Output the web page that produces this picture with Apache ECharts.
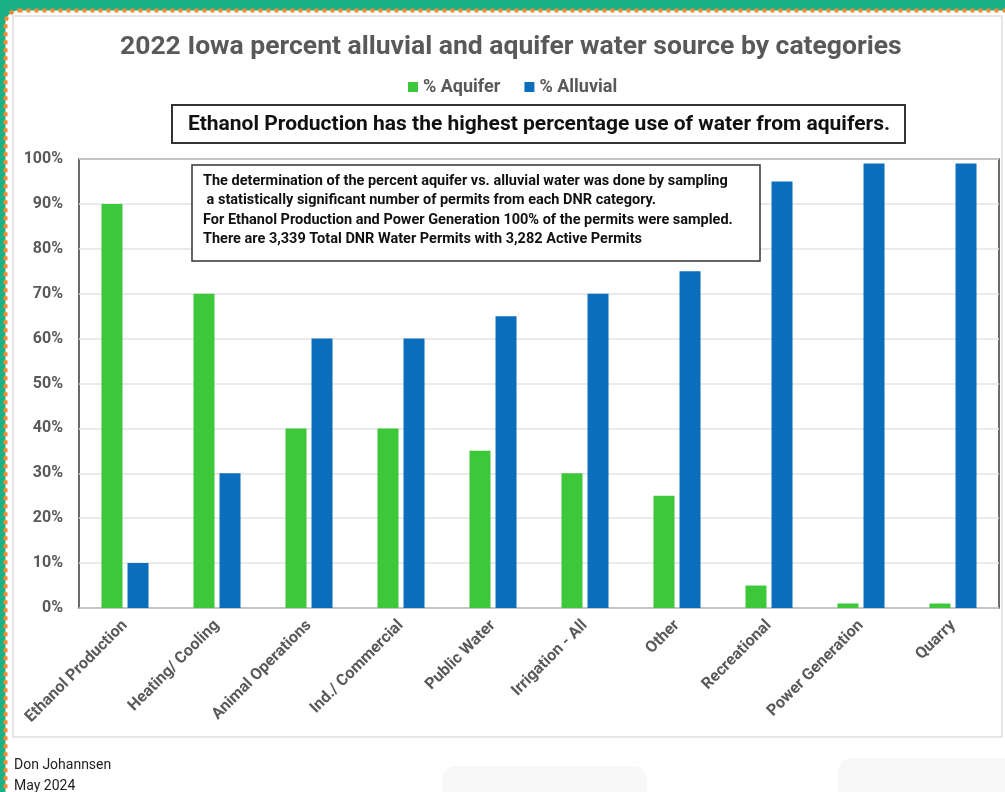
<!DOCTYPE html>
<html>
<head>
<meta charset="utf-8">
<script src="https://cdn.jsdelivr.net/npm/echarts@6/dist/echarts.min.js"></script>
<style>
  html, body { margin: 0; padding: 0; background: #ffffff; }
  #chart { width: 1005px; height: 792px; }
</style>
</head>
<body>
<div id="chart"></div>
<script>
// Water permit categories and the share of water drawn from each source (%)
const categories = [
  'Ethanol Production', 'Heating/ Cooling', 'Animal Operations', 'Ind./ Commercial',
  'Public Water', 'Irrigation - All', 'Other', 'Recreational', 'Power Generation', 'Quarry'
];
const aquiferPct  = [90, 70, 40, 40, 35, 30, 25, 5, 1, 1];
const alluvialPct = [10, 30, 60, 60, 65, 70, 75, 95, 99, 99];
const seriesNames = ['% Aquifer', '% Alluvial'];

const titleText = '2022 Iowa percent alluvial and aquifer water source by categories';
const headline = 'Ethanol Production has the highest percentage use of water from aquifers.';
const noteLines = [
  'The determination of the percent aquifer vs. alluvial water was done by sampling',
  ' a statistically significant number of permits from each DNR category.',
  'For Ethanol Production and Power Generation 100% of the permits were sampled.',
  'There are 3,339 Total DNR Water Permits with 3,282 Active Permits'
];
const footerLines = ['Don Johannsen', 'May 2024'];

const FONT = 'Roboto, "Noto Sans", sans-serif';
const GREY = '#595959';

const chart = echarts.init(document.getElementById('chart'), null, { renderer: 'canvas' });

chart.setOption({
  animation: false,
  backgroundColor: '#ffffff',
  title: {
    text: titleText,
    left: 115,
    top: 29,
    textStyle: { fontFamily: FONT, fontSize: 26.5, fontWeight: 'bold', color: GREY }
  },
  legend: {
    data: seriesNames,
    top: 73,
    left: 403,
    icon: 'rect',
    itemWidth: 10,
    itemHeight: 10,
    itemGap: 24,
    itemStyle: { borderWidth: 0 },
    textStyle: { fontFamily: FONT, fontSize: 18, fontWeight: 'bold', color: GREY }
  },
  grid: {
    left: 79, right: 6, top: 159, bottom: 184,
    show: true,
    borderColor: '#3a3a3a',
    borderWidth: 1.5,
    backgroundColor: 'transparent'
  },
  xAxis: {
    type: 'category',
    data: categories,
    axisTick: { show: false },
    axisLine: { show: false },
    axisLabel: {
      rotate: 45,
      interval: 0,
      margin: 15,
      fontFamily: FONT,
      fontSize: 16,
      fontWeight: 'bold',
      color: GREY
    }
  },
  yAxis: {
    type: 'value',
    min: 0,
    max: 100,
    interval: 10,
    axisLine: { show: false },
    axisTick: { show: false },
    splitLine: { lineStyle: { color: '#e3e3e3', width: 1.5 } },
    axisLabel: {
      formatter: '{value}%',
      margin: 16,
      fontFamily: FONT,
      fontSize: 16,
      fontWeight: 'bold',
      color: GREY
    }
  },
  series: [
    {
      name: seriesNames[0],
      type: 'bar',
      data: aquiferPct,
      barWidth: 21,
      barGap: '24%',
      itemStyle: { color: '#3cc83a' }
    },
    {
      name: seriesNames[1],
      type: 'bar',
      data: alluvialPct,
      barWidth: 21,
      barGap: '24%',
      itemStyle: { color: '#0a6ebd' }
    }
  ],
  graphic: [
    // teal frame with orange dotted edge
    { type: 'rect', z: -20, silent: true, shape: { x: 0, y: 0, width: 1005, height: 792 }, style: { fill: '#1bb084' } },
    { type: 'rect', z: -19, silent: true, shape: { x: 5.5, y: 10.5, width: 1040, height: 820, r: 13 },
      style: { fill: '#ffffff', stroke: '#f78a30', lineWidth: 4, lineDash: [4, 4] } },
    // chart panel outline
    { type: 'rect', z: -18, silent: true, shape: { x: 13, y: 16, width: 989, height: 721 },
      style: { fill: '#ffffff', stroke: '#e6e6e6', lineWidth: 2 } },
    // faint shapes along the bottom edge
    { type: 'rect', z: -18, silent: true, shape: { x: 442, y: 766, width: 205, height: 40, r: 14 }, style: { fill: '#f8f8f8' } },
    { type: 'rect', z: -18, silent: true, shape: { x: 838, y: 758, width: 200, height: 50, r: 14 }, style: { fill: '#f8f8f8' } },
    // headline box
    { type: 'rect', z: 50, silent: true, shape: { x: 172, y: 105, width: 733, height: 38 },
      style: { fill: '#ffffff', stroke: '#333333', lineWidth: 2 } },
    { type: 'text', z: 51, silent: true, x: 539, y: 125,
      style: { text: headline, fill: '#111111', font: 'bold 21px ' + FONT, align: 'center', verticalAlign: 'middle' } },
    // sampling note box
    { type: 'rect', z: 50, silent: true, shape: { x: 192, y: 165, width: 568, height: 96 },
      style: { fill: '#ffffff', stroke: '#333333', lineWidth: 1.5 } },
    { type: 'text', z: 51, silent: true, x: 203, y: 171.5,
      style: { text: noteLines.join('\n'), fill: '#111111', font: 'bold 14.5px ' + FONT, lineHeight: 19.5, align: 'left', verticalAlign: 'top' } },
    // author and date
    { type: 'text', z: 51, silent: true, x: 14, y: 765,
      style: { text: footerLines[0], fill: '#222222', font: '14px ' + FONT, verticalAlign: 'middle' } },
    { type: 'text', z: 51, silent: true, x: 14, y: 786,
      style: { text: footerLines[1], fill: '#222222', font: '14px ' + FONT, verticalAlign: 'middle' } }
  ]
});
</script>
</body>
</html>
